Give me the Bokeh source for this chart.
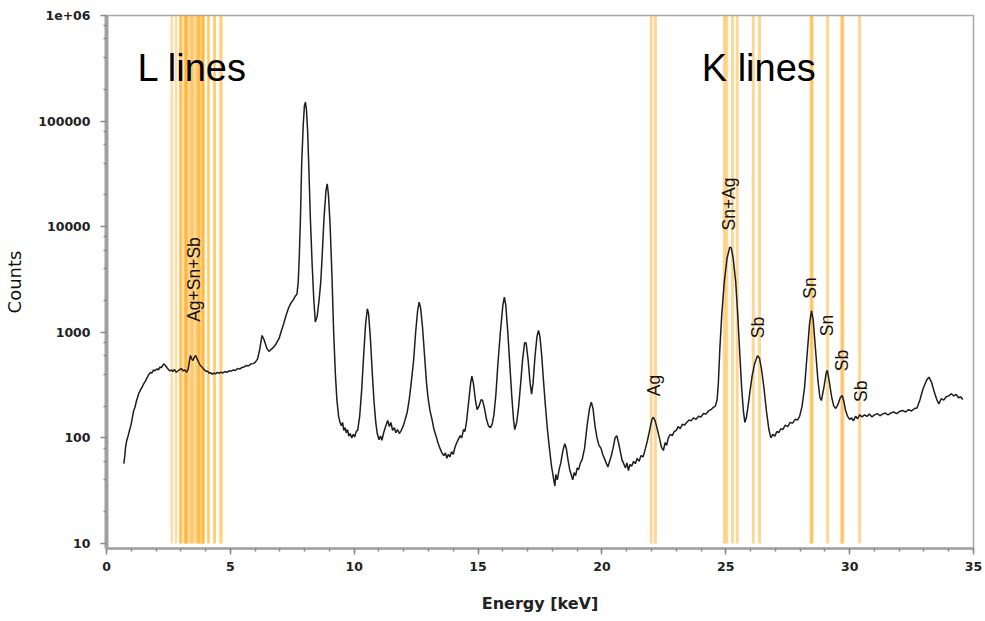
import math
from bokeh.plotting import figure
from bokeh.models import Range1d, FixedTicker
from bokeh.core.properties import value
from bokeh.embed import file_html
from bokeh.resources import INLINE

# ---------------- data ----------------
energy_kev = [
    0.70, 0.74, 0.77, 0.82, 0.87, 0.93, 0.98, 1.03, 1.10, 1.15, 1.20, 1.25, 1.30, 1.37, 1.43, 1.50,
    1.57, 1.64, 1.70, 1.77, 1.83, 1.90, 1.96, 2.04, 2.10, 2.16, 2.22, 2.31, 2.36, 2.42, 2.50, 2.56,
    2.62, 2.68, 2.74, 2.82, 2.88, 2.95, 3.03, 3.10, 3.16, 3.24, 3.30, 3.35, 3.39, 3.44, 3.49, 3.55,
    3.60, 3.66, 3.72, 3.79, 3.85, 3.91, 3.96, 4.02, 4.08, 4.14, 4.20, 4.27, 4.33, 4.40, 4.47, 4.54,
    4.62, 4.70, 4.78, 4.86, 4.95, 5.03, 5.12, 5.20, 5.30, 5.38, 5.47, 5.56, 5.65, 5.73, 5.82, 5.92,
    6.01, 6.10, 6.18, 6.28, 6.36, 6.48, 6.56, 6.65, 6.75, 6.85, 6.97, 7.07, 7.15, 7.25, 7.35, 7.45,
    7.55, 7.62, 7.69, 7.74, 7.78, 7.83, 7.88, 7.94, 7.99, 8.03, 8.07, 8.12, 8.17, 8.23, 8.30, 8.37,
    8.43, 8.50, 8.58, 8.65, 8.71, 8.78, 8.86, 8.91, 8.96, 9.03, 9.10, 9.17, 9.24, 9.30, 9.37, 9.43,
    9.48, 9.53, 9.58, 9.63, 9.68, 9.73, 9.78, 9.84, 9.90, 9.96, 10.02, 10.08, 10.14, 10.22, 10.30, 10.38,
    10.46, 10.53, 10.58, 10.65, 10.72, 10.80, 10.87, 10.93, 11.00, 11.06, 11.12, 11.18, 11.25, 11.35, 11.42, 11.48,
    11.55, 11.62, 11.68, 11.75, 11.82, 11.90, 11.98, 12.06, 12.14, 12.22, 12.30, 12.40, 12.48, 12.56, 12.62, 12.68,
    12.76, 12.84, 12.92, 12.98, 13.06, 13.14, 13.22, 13.30, 13.38, 13.46, 13.54, 13.62, 13.68, 13.74, 13.80, 13.86,
    13.93, 14.00, 14.07, 14.14, 14.21, 14.28, 14.34, 14.41, 14.47, 14.53, 14.62, 14.70, 14.75, 14.81, 14.89, 14.96,
    15.04, 15.12, 15.18, 15.26, 15.34, 15.42, 15.50, 15.57, 15.64, 15.72, 15.80, 15.90, 16.00, 16.06, 16.12, 16.20,
    16.28, 16.36, 16.43, 16.48, 16.56, 16.64, 16.72, 16.80, 16.88, 16.94, 17.02, 17.10, 17.16, 17.22, 17.30, 17.38,
    17.44, 17.50, 17.57, 17.64, 17.72, 17.80, 17.88, 17.96, 18.04, 18.10, 18.14, 18.20, 18.27, 18.34, 18.42, 18.50,
    18.56, 18.63, 18.70, 18.76, 18.82, 18.88, 18.94, 19.00, 19.06, 19.13, 19.20, 19.30, 19.40, 19.50, 19.57, 19.64,
    19.72, 19.80, 19.88, 19.96, 20.03, 20.10, 20.17, 20.24, 20.31, 20.38, 20.45, 20.53, 20.60, 20.67, 20.74, 20.81,
    20.88, 20.95, 21.01, 21.07, 21.13, 21.20, 21.28, 21.35, 21.42, 21.50, 21.58, 21.66, 21.76, 21.84, 21.93, 22.02,
    22.08, 22.15, 22.24, 22.32, 22.40, 22.48, 22.55, 22.61, 22.68, 22.76, 22.84, 22.92, 23.00, 23.08, 23.16, 23.25,
    23.33, 23.42, 23.52, 23.60, 23.70, 23.80, 23.90, 24.00, 24.10, 24.20, 24.30, 24.40, 24.50, 24.58, 24.65, 24.70,
    24.76, 24.84, 24.94, 25.05, 25.16, 25.22, 25.30, 25.40, 25.48, 25.57, 25.64, 25.71, 25.77, 25.83, 25.90, 25.98,
    26.06, 26.16, 26.28, 26.36, 26.44, 26.54, 26.64, 26.74, 26.82, 26.90, 26.98, 27.06, 27.14, 27.22, 27.30, 27.40,
    27.50, 27.60, 27.70, 27.80, 27.90, 27.98, 28.08, 28.18, 28.28, 28.38, 28.46, 28.53, 28.62, 28.72, 28.80, 28.86,
    28.96, 29.06, 29.10, 29.18, 29.28, 29.36, 29.44, 29.52, 29.62, 29.70, 29.77, 29.84, 29.92, 30.00, 30.08, 30.15,
    30.24, 30.32, 30.40, 30.50, 30.60, 30.70, 30.80, 30.90, 31.00, 31.12, 31.22, 31.32, 31.44, 31.55, 31.66, 31.78,
    31.90, 32.02, 32.14, 32.26, 32.38, 32.50, 32.62, 32.72, 32.84, 32.96, 33.10, 33.20, 33.30, 33.42, 33.52, 33.60,
    33.70, 33.80, 33.90, 34.00, 34.10, 34.20, 34.30, 34.40, 34.48, 34.57,
]
counts = [
    57, 68, 82, 95, 104, 118, 130, 150, 182, 195, 220, 240, 262, 285, 300, 325,
    345, 372, 395, 418, 410, 440, 432, 451, 440, 470, 462, 503, 490, 470, 445, 430,
    440, 425, 445, 418, 430, 445, 451, 430, 440, 418, 450, 540, 603, 560, 541, 585,
    603, 560, 520, 485, 470, 450, 440, 425, 430, 410, 415, 400, 412, 404, 418, 408,
    420, 412, 425, 418, 432, 428, 440, 435, 455, 448, 465, 470, 485, 480, 500, 505,
    521, 560, 680, 933, 850, 700, 660, 690, 724, 780, 880, 1050, 1200, 1450, 1700, 1900,
    2050, 2200, 2300, 3000, 5000, 12000, 40000, 90000, 140000, 151000, 130000, 80000, 35000, 12000, 4500, 2000,
    1250, 1400, 2000, 3000, 5500, 12000, 22000, 25500, 20000, 10000, 3500, 1000, 400, 230, 160, 140,
    130, 140, 118, 125, 112, 120, 104, 110, 100, 108, 102, 115, 118, 160, 280, 600,
    1200, 1670, 1500, 900, 450, 220, 140, 110, 96, 104, 95, 110, 125, 146, 128, 140,
    118, 125, 112, 120, 110, 118, 130, 150, 175, 230, 330, 550, 1000, 1600, 1930, 1700,
    1100, 600, 330, 240, 180, 150, 120, 105, 90, 80, 72, 68, 72, 64, 70, 66,
    74, 70, 82, 90, 98, 105, 100, 120, 115, 140, 220, 330, 385, 330, 230, 185,
    200, 230, 228, 190, 150, 130, 125, 135, 165, 260, 500, 1000, 1800, 2150, 1800, 1000,
    500, 250, 150, 120, 140, 200, 330, 560, 800, 790, 550, 330, 260, 330, 600, 920,
    1040, 900, 600, 350, 200, 120, 80, 55, 42, 35, 45, 40, 50, 58, 75, 88,
    80, 62, 50, 45, 40, 47, 44, 52, 50, 58, 62, 80, 130, 190, 218, 190,
    130, 100, 85, 80, 70, 64, 58, 53, 60, 68, 80, 100, 105, 90, 75, 62,
    57, 52, 58, 49, 56, 54, 60, 57, 64, 60, 68, 66, 80, 95, 120, 150,
    157, 145, 120, 100, 82, 76, 90, 85, 100, 108, 105, 115, 118, 128, 122, 135,
    132, 140, 148, 145, 155, 150, 160, 158, 170, 168, 180, 185, 195, 200, 230, 330,
    700, 1500, 3000, 5000, 6400, 6300, 5000, 3000, 1500, 600, 300, 180, 140, 155, 200, 280,
    380, 500, 600, 570, 450, 300, 180, 120, 100, 108, 104, 115, 112, 122, 120, 132,
    128, 140, 138, 150, 148, 160, 200, 300, 600, 1200, 1600, 1300, 700, 350, 240, 226,
    300, 420, 435, 340, 240, 200, 190, 205, 240, 252, 220, 180, 160, 150, 155, 145,
    160, 152, 165, 158, 165, 160, 168, 158, 165, 170, 162, 168, 172, 165, 172, 176,
    170, 178, 182, 176, 185, 180, 190, 192, 230, 290, 350, 376, 340, 270, 230, 210,
    235, 228, 245, 250, 262, 250, 258, 240, 245, 231,
]
assert len(energy_kev) == len(counts)

# L-line energies (Ag, Sn, Sb) in keV
l_line_kev = [
    2.634, 2.806, 2.978, 2.984, 3.151, 3.203, 3.234, 3.348, 3.520, 3.743,
    3.045, 3.272, 3.444, 3.663, 3.708, 3.751, 3.905, 4.131, 4.376,
    3.189, 3.437, 3.605, 3.843, 3.883, 3.933, 4.101, 4.348, 4.590, 4.650,
]
# K-line energies (Ag, Sn, Sb) in keV
k_line_kev = [21.99, 22.16, 24.94, 25.04, 25.27, 25.46, 26.11, 26.36,
              28.44, 28.49, 29.11, 29.68, 29.73, 30.40]

peak_labels = ["Ag+Sn+Sb", "Ag", "Sn+Ag", "Sb", "Sn", "Sn", "Sb", "Sb"]
peak_label_kev = [3.55, 22.1, 25.14, 26.3, 28.4, 29.1, 29.7, 30.45]
peak_label_counts = [3160, 313, 16400, 1110, 2630, 1160, 541, 276]

group_titles = ["L lines", "K lines"]
group_title_kev = [1.25, 24.03]
group_title_counts = [316000, 316000]

x_major_ticks = [0, 5, 10, 15, 20, 25, 30, 35]
y_major_ticks = [10, 100, 1000, 10000, 100000, 1000000]
y_tick_labels = ["10", "100", "1000", "10000", "100000", "1e+06"]

# ---------------- figure ----------------
y_bottom = 10 ** (1 - 5 / 105.6)
p = figure(width=985, height=621, output_backend="svg", toolbar_location=None,
           y_axis_type="log",
           x_range=Range1d(0, 35), y_range=Range1d(y_bottom, 1e6),
           min_border_left=106, min_border_right=12, min_border_top=15, min_border_bottom=73)
p.background_fill_color = "white"
p.border_fill_color = "white"
p.outline_line_color = "#a8a8a8"
p.outline_line_width = 1.5
p.xgrid.visible = False
p.ygrid.visible = False

orange = "#FFA000"
p.segment(x0=l_line_kev, x1=l_line_kev, y0=[10] * len(l_line_kev), y1=[1e6] * len(l_line_kev),
          line_color=orange, line_alpha=0.36, line_width=2.5)
p.segment(x0=k_line_kev, x1=k_line_kev, y0=[10] * len(k_line_kev), y1=[1e6] * len(k_line_kev),
          line_color=orange, line_alpha=0.42, line_width=3)

p.line(energy_kev, counts, line_color="#1e1e1e", line_width=1.5)

p.text(x=peak_label_kev, y=peak_label_counts, text=peak_labels, angle=math.pi / 2,
       text_align="center", text_baseline="middle", text_color="#111111",
       text_font=value("Liberation Sans"), text_font_size="17.5px")

p.text(x=group_title_kev, y=group_title_counts, text=group_titles,
       text_align="left", text_baseline="alphabetic", text_color="#000000",
       text_font=value("Liberation Sans"), text_font_size="38px")

# ---------------- axes ----------------
xa = p.xaxis[0]
xa.ticker = FixedTicker(ticks=x_major_ticks, minor_ticks=list(range(0, 36)))
ya = p.yaxis[0]
minor_y = [m * d for d in [10, 100, 1000, 10000, 100000] for m in (2, 4, 6, 8)]
ya.ticker = FixedTicker(ticks=y_major_ticks, minor_ticks=minor_y)
ya.major_label_overrides = {float(v): s for v, s in zip(y_major_ticks, y_tick_labels)}

for ax in (xa, ya):
    ax.axis_line_color = "#a0a0a0"
    ax.major_tick_line_color = "#8a8a8a"
    ax.minor_tick_line_color = "#8a8a8a"
    ax.major_tick_in = 0
    ax.minor_tick_in = 0
    ax.major_tick_out = 6
    ax.minor_tick_out = 3
    ax.major_tick_line_width = 1.5
    ax.minor_tick_line_width = 1.5
    ax.major_label_text_font = "DejaVu Sans"
    ax.major_label_text_font_style = "bold"
    ax.major_label_text_font_size = "12.5px"
    ax.major_label_text_color = "#222222"

xa.axis_line_width = 2.5
ya.axis_line_width = 4
xa.major_label_standoff = 7
ya.major_label_standoff = 10

ya.axis_label = "Counts"
ya.axis_label_text_font = "DejaVu Sans"
ya.axis_label_text_font_style = "normal"
ya.axis_label_text_font_size = "18px"
ya.axis_label_text_color = "#111111"
ya.axis_label_standoff = 10

xa.axis_label = "Energy [keV]"
xa.axis_label_text_font = "DejaVu Sans"
xa.axis_label_text_font_style = "bold"
xa.axis_label_text_font_size = "16px"
xa.axis_label_text_color = "#222222"
xa.axis_label_standoff = 20

open("out.html", "w").write(file_html(p, INLINE))
